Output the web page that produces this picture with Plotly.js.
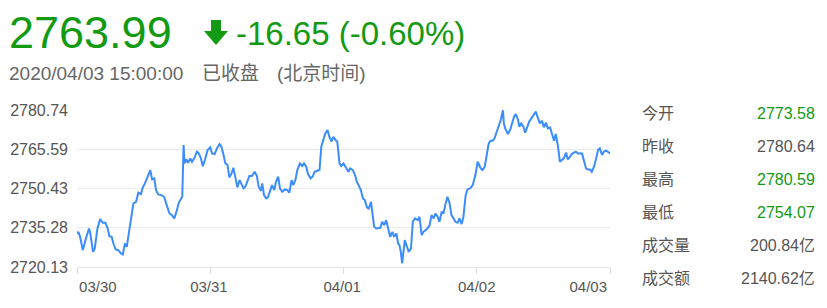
<!DOCTYPE html>
<html>
<head>
<meta charset="utf-8">
<script src="https://cdn.plot.ly/plotly-3.0.1.min.js"></script>
<style>html,body{margin:0;padding:0;background:#fff;}#chart{width:827px;height:308px;}</style>
</head>
<body>
<div id="chart"></div>
<script>
// ---- data ----
// trading minutes since 03/30 09:30 (240 per day, 5 days)
const minutes = [0,3,7,13,19,27,30,36,40,46,52,58,64,69,73,78,82,87,93,99,103,108,112,117,123,127,133,138,144,148,153,159,165,169,174,178,183,190,196,202,208,214,219,225,229,237,
240,242,246,250,255,259,264,270,274,279,283,288,294,300,304,310,315,321,325,330,334,339,343,348,352,357,361,366,370,375,379,384,388,394,400,405,409,414,417,421,426,430,435,439,444,448,453,457,462,468,474,478,
483,487,492,496,502,507,511,516,520,526,531,535,541,546,550,555,559,564,568,573,577,582,586,591,595,600,606,611,615,621,626,630,635,639,644,648,653,657,662,665,669,674,678,683,687,692,696,701,705,710,714,719,
723,726,729,732,735,738,743,747,752,756,761,767,771,776,780,785,789,794,798,803,807,812,816,821,825,830,834,839,843,848,852,857,861,866,870,875,879,885,891,897,902,909,913,918,922,927,931,936,940,945,949,954,959,
961,964,970,975,979,984,988,993,996,1000,1005,1009,1014,1018,1023,1029,1033,1038,1042,1047,1051,1056,1060,1065,1069,1074,1078,1083,1087,1092,1096,1101,1105,1110,1114,1119,1123,1128,1132,1137,1141,1146,1150,1155,1159,1164,1168,1173,1177,1182,1186,1191,1195,1200];
const prices = [2733.07,2733.72,2731.78,2726.63,2730.50,2735.01,2733.07,2725.99,2727.28,2735.01,2738.61,2737.20,2737.20,2735.01,2732.04,2731.78,2729.21,2726.89,2726.63,2725.34,2724.96,2729.21,2727.92,2733.07,2740.16,2744.67,2745.31,2748.79,2748.28,2750.85,2752.40,2754.97,2757.55,2753.94,2754.33,2749.82,2748.15,2747.89,2747.24,2744.02,2740.80,2740.16,2738.87,2742.09,2744.92,2747.24,
2767.21,2760.13,2761.67,2760.39,2762.06,2760.77,2762.06,2764.64,2763.99,2762.06,2759.10,2761.41,2765.28,2766.31,2763.99,2763.73,2765.92,2767.60,2766.57,2763.35,2760.13,2759.48,2754.72,2756.26,2758.45,2754.33,2750.85,2753.69,2752.40,2750.47,2751.11,2753.04,2755.23,2755.23,2756.90,2755.23,2751.11,2749.57,2752.40,2747.89,2746.60,2746.99,2749.57,2751.75,2749.82,2753.04,2754.97,2750.47,2749.18,2750.08,2749.82,2748.79,
2753.69,2751.75,2753.94,2757.55,2760.13,2759.10,2760.13,2758.84,2756.01,2754.33,2755.23,2756.90,2757.29,2757.55,2766.57,2769.15,2771.72,2773.01,2770.43,2768.50,2770.43,2769.15,2768.50,2760.13,2759.10,2760.13,2758.19,2756.90,2758.19,2757.55,2755.62,2753.04,2751.37,2749.82,2746.60,2745.96,2743.12,2742.74,2745.31,2741.45,2735.65,2735.01,2735.01,2735.26,2737.58,2736.29,2738.22,2735.01,2731.78,2733.72,2731.78,2733.07,
2729.21,2728.56,2725.99,2721.48,2726.63,2730.50,2727.92,2725.99,2727.28,2737.58,2738.87,2738.22,2739.51,2732.43,2733.72,2734.36,2735.01,2736.29,2740.16,2738.87,2740.80,2739.51,2737.58,2741.45,2740.80,2744.67,2747.24,2744.67,2740.16,2738.87,2737.58,2737.20,2738.87,2736.68,2739.51,2747.89,2750.08,2750.47,2751.75,2755.62,2760.77,2758.19,2757.55,2758.84,2763.35,2767.86,2768.89,2768.89,2769.79,2772.37,2774.94,2776.88,2780.64,
2775.59,2773.65,2771.46,2773.01,2775.59,2778.16,2779.19,2776.88,2774.30,2775.59,2774.30,2771.98,2774.30,2776.23,2777.52,2779.19,2780.10,2777.52,2775.59,2776.62,2774.04,2775.84,2773.65,2774.04,2771.98,2768.89,2771.46,2766.57,2760.77,2761.41,2762.06,2764.25,2761.67,2762.70,2763.73,2764.25,2764.64,2763.99,2763.99,2763.99,2761.41,2758.19,2757.81,2757.81,2756.90,2758.84,2761.41,2765.28,2765.92,2763.35,2764.64,2765.02,2764.64,2763.99];

const yTickValues = [2720.13, 2735.28, 2750.43, 2765.59, 2780.74];
const yTickLabels = ["2720.13", "2735.28", "2750.43", "2765.59", "2780.74"];
const xTickLabels = ["03/30", "03/31", "04/01", "04/02", "04/03"];

const lastPrice = "2763.99";
const changeText = "-16.65 (-0.60%)";
const dateText = "2020/04/03 15:00:00";
const statusText = "已收盘";
const zoneText = "(北京时间)";

const statLabels = ["今开", "昨收", "最高", "最低", "成交量", "成交额"];
const statValues = ["2773.58", "2780.64", "2780.59", "2754.07", "200.84亿", "2140.62亿"];
const statIsGreen = [true, false, true, true, false, false];

// ---- layout helpers (pixel -> paper) ----
const W = 827, H = 308;
const M = {l: 77, r: 217, t: 110, b: 41};
const PW = W - M.l - M.r, PH = H - M.t - M.b;
const px = x => (x - M.l) / PW;
const py = y => (H - M.b - y) / PH;

const GREEN = "#129a12";
const GREY = "#555555";
const FONT = "'Liberation Sans', Arial, 'Noto Sans CJK SC', sans-serif";

const tickMarkPos = [0, 300, 600, 900, 1200];
const tickLabelPos = [47, 297, 597, 900, 1151];

const annotations = [];
function addText(text, x, y, size, color, xanchor) {
  annotations.push({text: text, xref: "paper", yref: "paper", x: px(x), y: py(y),
    xanchor: xanchor || "left", yanchor: "middle", showarrow: false,
    font: {family: FONT, size: size, color: color}});
}
addText(lastPrice, 7, 32, 45, GREEN);
addText(changeText, 234, 33, 33, GREEN);
addText(dateText, 7, 73, 19, "#666666");
addText(statusText, 200, 73, 19, "#666666");
addText(zoneText, 275, 73, 19, "#666666");
statLabels.forEach((lab, i) => {
  const y = 113 + i * 33;
  addText(lab, 640, y, 16, GREY, "left");
  addText(statValues[i], 817, y, 16, statIsGreen[i] ? GREEN : GREY, "right");
});

const arrowPts = [[211,20],[221,20],[221,31],[228,31],[216,45],[204,31],[211,31]];
const arrowPath = "M" + arrowPts.map(p => px(p[0]).toFixed(4) + "," + py(p[1]).toFixed(4)).join(" L") + " Z";

const trace = {
  x: minutes, y: prices, type: "scatter", mode: "lines",
  line: {color: "#3a8cff", width: 2}, hoverinfo: "skip"
};

const layout = {
  width: W, height: H,
  margin: M,
  paper_bgcolor: "#ffffff", plot_bgcolor: "#ffffff",
  showlegend: false,
  font: {family: FONT, color: GREY},
  xaxis: {
    range: [0, 1200], fixedrange: true,
    tickmode: "array", tickvals: tickLabelPos, ticktext: xTickLabels,
    ticks: "", showgrid: false, zeroline: false,
    showline: true, linecolor: "#e6e6e6", linewidth: 1,
    tickfont: {size: 15, color: GREY}, ticklabelstandoff: 6,
    minor: {tickmode: "array", tickvals: tickMarkPos, ticks: "outside", ticklen: 6, tickcolor: "#dddddd", tickwidth: 1, showgrid: false}
  },
  yaxis: {
    range: [2720.13, 2780.74], fixedrange: true,
    tickmode: "array", tickvals: yTickValues, ticktext: yTickLabels,
    ticks: "", showgrid: true, gridcolor: "#ebebeb", gridwidth: 1,
    zeroline: false, showline: false,
    tickfont: {size: 16, color: GREY}, ticklabelstandoff: 8
  },
  annotations: annotations,
  shapes: [{type: "path", xref: "paper", yref: "paper", path: arrowPath, fillcolor: GREEN, line: {width: 0}}]
};

Plotly.newPlot("chart", [trace], layout, {displayModeBar: false, staticPlot: true});
</script>
</body>
</html>
